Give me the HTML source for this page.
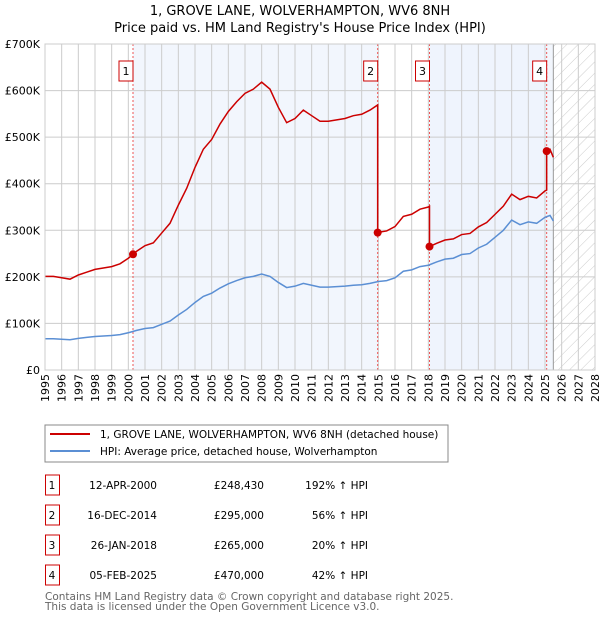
<!DOCTYPE html>
<html><head><meta charset="utf-8"><style>
body{margin:0;background:#fff;font-family:"DejaVu Sans","Liberation Sans",sans-serif;}
svg text{font-family:"DejaVu Sans","Liberation Sans",sans-serif;}
</style></head><body>
<svg id="c" width="600" height="620" viewBox="0 0 600 620" xmlns="http://www.w3.org/2000/svg">
<defs><pattern id="hatch" width="8" height="8" patternUnits="userSpaceOnUse" patternTransform="rotate(45)"><line x1="0" y1="0" x2="0" y2="8" stroke="#ccc" stroke-width="1"/></pattern></defs>
<text x="300" y="15" text-anchor="middle" font-size="13">1, GROVE LANE, WOLVERHAMPTON, WV6 8NH</text>
<text x="300" y="32" text-anchor="middle" font-size="13">Price paid vs. HM Land Registry's House Price Index (HPI)</text>
<g id="plot"></g>
<g>
<rect x="45" y="425" width="403" height="37" fill="#fff" stroke="#888"/>
<line x1="50" y1="434" x2="90" y2="434" stroke="#c00" stroke-width="2"/>
<text x="100" y="438" font-size="10.5">1, GROVE LANE, WOLVERHAMPTON, WV6 8NH (detached house)</text>
<line x1="50" y1="451" x2="90" y2="451" stroke="#5b8fd4" stroke-width="2"/>
<text x="100" y="455" font-size="10.5">HPI: Average price, detached house, Wolverhampton</text>
</g>
<g id="table" font-size="10.5"></g>
<text x="45" y="600" font-size="10.5" fill="#666">Contains HM Land Registry data © Crown copyright and database right 2025.</text>
<text x="45" y="610" font-size="10.5" fill="#666">This data is licensed under the Open Government Licence v3.0.</text>
</svg>
<script>
const hpiYears=[1995,1995.5,1996,1996.5,1997,1997.5,1998,1998.5,1999,1999.5,2000,2000.5,2001,2001.5,2002,2002.5,2003,2003.5,2004,2004.5,2005,2005.5,2006,2006.5,2007,2007.5,2008,2008.5,2009,2009.5,2010,2010.5,2011,2011.5,2012,2012.5,2013,2013.5,2014,2014.5,2015,2015.5,2016,2016.5,2017,2017.5,2018,2018.5,2019,2019.5,2020,2020.5,2021,2021.5,2022,2022.5,2023,2023.5,2024,2024.5,2025,2025.3,2025.5];
const hpiValues=[67,67,66,65,68,70,72,73,74,76,80,85,89,91,98,105,118,130,145,158,165,176,185,192,198,201,206,201,188,177,180,186,182,178,178,179,180,182,183,186,190,192,198,212,215,222,225,232,238,240,248,250,262,270,285,300,322,312,318,315,328,332,320];
const saleLabels=["1","2","3","4"];
const saleTimes=[2000.28,2014.96,2018.07,2025.1];
const salePrices=[248.43,295,265,470];
const saleDates=["12-APR-2000","16-DEC-2014","26-JAN-2018","05-FEB-2025"];
const salePriceText=["£248,430","£295,000","£265,000","£470,000"];
const saleHpiText=["192% ↑ HPI","56% ↑ HPI","20% ↑ HPI","42% ↑ HPI"];
const yTicks=[0,100,200,300,400,500,600,700];
const yTickLabels=["£0","£100K","£200K","£300K","£400K","£500K","£600K","£700K"];
const xStart=1995,xEnd=2028;
const L=45,R=595,T=44,B=370;
const X=t=>L+(t-xStart)*(R-L)/(xEnd-xStart);
const Y=v=>B-v*(B-T)/700;
const NS="http://www.w3.org/2000/svg";
const plot=document.getElementById('plot');
function mk(tag,attrs,parent){const e=document.createElementNS(NS,tag);for(const k in attrs)e.setAttribute(k,attrs[k]);(parent||plot).appendChild(e);return e;}
function hpiAt(t){for(let i=0;i<hpiYears.length-1;i++){if(t<=hpiYears[i+1]){const f=(t-hpiYears[i])/(hpiYears[i+1]-hpiYears[i]);return hpiValues[i]+f*(hpiValues[i+1]-hpiValues[i]);}}return hpiValues[hpiValues.length-1];}
const dataEnd=hpiYears[hpiYears.length-1];
for(let i=0;i<saleTimes.length;i+=2){
 const end=i+1<saleTimes.length?saleTimes[i+1]:dataEnd;
 const r=mk('rect',{x:X(saleTimes[i]),y:T,width:X(end)-X(saleTimes[i]),height:B-T,fill:'#eef3fc',opacity:0.75});
 
 
}
const sh=mk('rect',{x:X(saleTimes[2]),y:T,width:X(dataEnd)-X(saleTimes[2]),height:B-T,fill:'#eef3fc',opacity:0.75});


const hz=mk('rect',{x:X(dataEnd),y:T,width:R-X(dataEnd),height:B-T,fill:'url(#hatch)'});


for(let yr=xStart;yr<=xEnd;yr++){
 const g=mk('line',{x1:X(yr),x2:X(yr),y1:T,y2:B,stroke:'#ccc','stroke-width':1});
 
 
 const tx=mk('text',{x:0,y:0,'font-size':11,'text-anchor':'end',transform:`translate(${X(yr)+4},${B+4}) rotate(-90)`});
 tx.textContent=yr;
 
 
}
yTicks.forEach((v,i)=>{
 const g=mk('line',{x1:L,x2:R,y1:Y(v),y2:Y(v),stroke:'#ccc','stroke-width':1});
 
 
 const tx=mk('text',{x:40,y:Y(v)+4,'font-size':11,'text-anchor':'end'});
 tx.textContent=yTickLabels[i];
 
 
});
const fl=mk('line',{x1:X(dataEnd),x2:X(dataEnd),y1:T,y2:B,stroke:'#999','stroke-width':1});


saleTimes.forEach((t,i)=>{
 const l=mk('line',{x1:X(t),x2:X(t),y1:T,y2:B,stroke:'#e55','stroke-width':1,'stroke-dasharray':'2,2'});
 
 
 const bx=mk('rect',{x:X(t)-14,y:61,width:14,height:20,fill:'#fff',stroke:'#c00'});
 
 
 const tx=mk('text',{x:X(t)-7,y:75,'font-size':11,'text-anchor':'middle'});
 tx.textContent=saleLabels[i];
 
 
});
const hp=mk('polyline',{points:hpiYears.map((t,i)=>X(t)+','+Y(hpiValues[i])).join(' '),fill:'none',stroke:'#5b8fd4','stroke-width':1.5});


let pts=[];
for(let s=0;s<saleTimes.length;s++){
 const ratio=salePrices[s]/hpiAt(saleTimes[s]);
 const a=s===0?xStart:saleTimes[s];
 const b=s+1<saleTimes.length?saleTimes[s+1]:dataEnd;
 const ts=[a].concat(hpiYears.filter(t=>t>a&&t<b)).concat([b]);
 ts.forEach(t=>pts.push(X(t)+','+Y(hpiAt(t)*ratio)));
}
const pl=mk('polyline',{points:pts.join(' '),fill:'none',stroke:'#c00','stroke-width':1.5});


saleTimes.forEach((t,i)=>{
 const c=mk('circle',{cx:X(t),cy:Y(salePrices[i]),r:4,fill:'#c00'});
 
 
});
const ax=mk('rect',{x:L,y:T,width:R-L,height:B-T,fill:'none',stroke:'#ccc'});


const tb=document.getElementById('table');
saleTimes.forEach((t,i)=>{
 const y=487+i*30;
 const bx=mk('rect',{x:45.5,y:y-12,width:14,height:20,fill:'#fff',stroke:'#c00'},tb);
 
 
 const n=mk('text',{x:52,y:y+2,'text-anchor':'middle'},tb);n.textContent=saleLabels[i];
 
 
 const d=mk('text',{x:157,y:y+2,'text-anchor':'end'},tb);d.textContent=saleDates[i];
 
 
 const p=mk('text',{x:264,y:y+2,'text-anchor':'end'},tb);p.textContent=salePriceText[i];
 
 
 const h=mk('text',{x:368,y:y+2,'text-anchor':'end'},tb);h.textContent=saleHpiText[i];
 
 
});
</script>
</body></html>
